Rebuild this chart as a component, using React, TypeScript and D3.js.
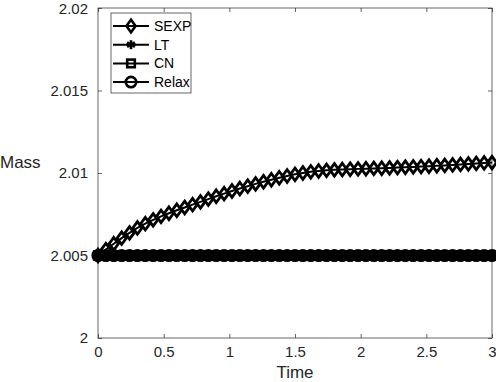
import { useEffect, useRef } from "react";
import { select, scaleLinear, line, axisBottom, axisLeft, axisTop, axisRight } from "d3";

const times = [
  0, 0.06, 0.12, 0.18, 0.24, 0.3, 0.36, 0.42, 0.48, 0.54, 0.6, 0.66, 0.72, 0.78, 0.84, 0.9, 0.96,
  1.02, 1.08, 1.14, 1.2, 1.26, 1.32, 1.38, 1.44, 1.5, 1.56, 1.62, 1.68, 1.74, 1.8, 1.86, 1.92,
  1.98, 2.04, 2.1, 2.16, 2.22, 2.28, 2.34, 2.4, 2.46, 2.52, 2.58, 2.64, 2.7, 2.76, 2.82, 2.88,
  2.94, 3.0,
];

const sexp = [
  2.005, 2.00536, 2.00571, 2.00605, 2.00637, 2.00667, 2.00693, 2.00716, 2.00737, 2.00756,
  2.00774, 2.00791, 2.00808, 2.00825, 2.00842, 2.00859, 2.00875, 2.00891, 2.00906, 2.0092,
  2.00934, 2.00947, 2.00959, 2.00971, 2.00982, 2.00992, 2.01, 2.01007, 2.01012, 2.01016,
  2.01019, 2.01021, 2.01023, 2.01025, 2.01026, 2.01028, 2.01029, 2.01031, 2.01033, 2.01035,
  2.01037, 2.01039, 2.01041, 2.01044, 2.01046, 2.01049, 2.01052, 2.01055, 2.01058, 2.01061,
  2.01063,
];

const lt = [
  2.005, 2.005, 2.005, 2.005, 2.005, 2.005, 2.005, 2.005, 2.005, 2.005, 2.005, 2.005, 2.005,
  2.005, 2.005, 2.005, 2.005, 2.005, 2.005, 2.005, 2.005, 2.005, 2.005, 2.005, 2.005, 2.005,
  2.005, 2.005, 2.005, 2.005, 2.005, 2.005, 2.005, 2.005, 2.005, 2.005, 2.005, 2.005, 2.005,
  2.005, 2.005, 2.005, 2.005, 2.005, 2.005, 2.005, 2.005, 2.005, 2.005, 2.005, 2.005,
];

const cn = [
  2.005, 2.005, 2.005, 2.005, 2.005, 2.005, 2.005, 2.005, 2.005, 2.005, 2.005, 2.005, 2.005,
  2.005, 2.005, 2.005, 2.005, 2.005, 2.005, 2.005, 2.005, 2.005, 2.005, 2.005, 2.005, 2.005,
  2.005, 2.005, 2.005, 2.005, 2.005, 2.005, 2.005, 2.005, 2.005, 2.005, 2.005, 2.005, 2.005,
  2.005, 2.005, 2.005, 2.005, 2.005, 2.005, 2.005, 2.005, 2.005, 2.005, 2.005, 2.005,
];

const relax = [
  2.005, 2.005, 2.005, 2.005, 2.005, 2.005, 2.005, 2.005, 2.005, 2.005, 2.005, 2.005, 2.005,
  2.005, 2.005, 2.005, 2.005, 2.005, 2.005, 2.005, 2.005, 2.005, 2.005, 2.005, 2.005, 2.005,
  2.005, 2.005, 2.005, 2.005, 2.005, 2.005, 2.005, 2.005, 2.005, 2.005, 2.005, 2.005, 2.005,
  2.005, 2.005, 2.005, 2.005, 2.005, 2.005, 2.005, 2.005, 2.005, 2.005, 2.005, 2.005,
];

const seriesNames = ["SEXP", "LT", "CN", "Relax"];
const xTicks = [0, 0.5, 1, 1.5, 2, 2.5, 3];
const yTicks = [2, 2.005, 2.01, 2.015, 2.02];

const width = 496;
const height = 382;
const margin = { top: 8, right: 4, bottom: 44, left: 98 };
const axisColor = "#262626";
const font = "'Liberation Sans', Arial, Helvetica, sans-serif";

// draws one marker of the given kind at (0,0) inside group g (no face fill, like matlab)
const drawMarker = (g: any, kind: string) => {
  if (kind === "SEXP") {
    g.append("path").attr("d", "M0,-6.3L4.6,0L0,6.3L-4.6,0Z");
  } else if (kind === "LT") {
    [0, 60, 120].forEach((a) => {
      g.append("line")
        .attr("x1", 0).attr("y1", -4.5).attr("x2", 0).attr("y2", 4.5)
        .attr("transform", `rotate(${a})`);
    });
    g.append("line").attr("x1", -4.5).attr("y1", 0).attr("x2", 4.5).attr("y2", 0);
  } else if (kind === "CN") {
    g.append("rect").attr("x", -3.8).attr("y", -3.8).attr("width", 7.6).attr("height", 7.6);
  } else {
    g.append("circle").attr("r", 5.2);
  }
};

const Chart = () => {
  const svgRef = useRef<SVGSVGElement>(null);

  useEffect(() => {
    const svg = select(svgRef.current);
    svg.selectAll("*").remove();

    const xScale = scaleLinear().domain([0, 3]).range([margin.left, width - margin.right]);
    const yScale = scaleLinear().domain([2, 2.02]).range([height - margin.bottom, margin.top]);

    const plotW = width - margin.left - margin.right;
    const plotH = height - margin.top - margin.bottom;

    // box
    svg.append("rect")
      .attr("x", margin.left).attr("y", margin.top)
      .attr("width", plotW).attr("height", plotH)
      .attr("fill", "white").attr("stroke", axisColor).attr("stroke-width", 0.7);

    const styleAxis = (g: any, labels: boolean) => {
      g.select(".domain").remove();
      g.selectAll(".tick line").attr("stroke", axisColor).attr("stroke-width", 0.7);
      g.selectAll(".tick text")
        .attr("fill", labels ? axisColor : "none")
        .style("font-family", font)
        .style("font-size", "15px");
    };

    svg.append("g")
      .attr("transform", `translate(0,${height - margin.bottom})`)
      .call(axisBottom(xScale).tickValues(xTicks).tickSize(-4).tickPadding(8).tickFormat((d: any) => `${d}`))
      .call((g) => styleAxis(g, true));
    svg.append("g")
      .attr("transform", `translate(0,${margin.top})`)
      .call(axisTop(xScale).tickValues(xTicks).tickSize(-4).tickFormat(() => ""))
      .call((g) => styleAxis(g, false));
    svg.append("g")
      .attr("transform", `translate(${margin.left},0)`)
      .call(axisLeft(yScale).tickValues(yTicks).tickSize(-4).tickPadding(10).tickFormat((d: any) => `${d}`))
      .call((g) => styleAxis(g, true));
    svg.append("g")
      .attr("transform", `translate(${width - margin.right},0)`)
      .call(axisRight(yScale).tickValues(yTicks).tickSize(-4).tickFormat(() => ""))
      .call((g) => styleAxis(g, false));

    // keep the top tick label inside the picture
    svg.selectAll("text").filter((d: any) => d === 2.02).attr("dy", "0.38em");

    // axis titles
    svg.append("text")
      .attr("x", (margin.left + width - margin.right) / 2).attr("y", 378)
      .attr("text-anchor", "middle").attr("fill", axisColor)
      .style("font-family", font).style("font-size", "17px")
      .text("Time");
    svg.append("text")
      .attr("x", 0).attr("y", 168)
      .attr("fill", axisColor)
      .style("font-family", font).style("font-size", "17px")
      .text("Mass");

    const allSeries = [sexp, lt, cn, relax];
    const lineGen = line<number>()
      .x((_, i) => xScale(times[i]))
      .y((d) => yScale(d));

    allSeries.forEach((vals, k) => {
      const g = svg.append("g")
        .attr("stroke", "black").attr("stroke-width", 2).attr("fill", "none");
      g.append("path").attr("d", lineGen(vals));
      vals.forEach((v, i) => {
        const m = g.append("g")
          .attr("stroke-width", 2.8)
          .attr("transform", `translate(${xScale(times[i])},${yScale(v)})`);
        drawMarker(m, seriesNames[k]);
      });
    });

    // legend
    const legend = svg.append("g").attr("transform", "translate(111,13)");
    legend.append("rect")
      .attr("width", 80).attr("height", 80)
      .attr("fill", "white").attr("stroke", axisColor).attr("stroke-width", 0.7);
    seriesNames.forEach((name, k) => {
      const y = 13 + k * 18.7;
      const row = legend.append("g").attr("stroke", "black").attr("stroke-width", 2).attr("fill", "none");
      row.append("line").attr("x1", 2).attr("x2", 38).attr("y1", y).attr("y2", y);
      const m = row.append("g").attr("stroke-width", 2.6).attr("transform", `translate(20,${y})`);
      drawMarker(m, name);
      legend.append("text")
        .attr("x", 43).attr("y", y + 5)
        .attr("fill", "black")
        .style("font-family", font).style("font-size", "14px")
        .text(name);
    });
  }, []);

  return <svg ref={svgRef} width={width} height={height} style={{ display: "block" }}></svg>;
};

export default function App() {
  return (
    <div style={{ position: "fixed", left: 0, top: 0, background: "white" }}>
      <Chart />
    </div>
  );
}
